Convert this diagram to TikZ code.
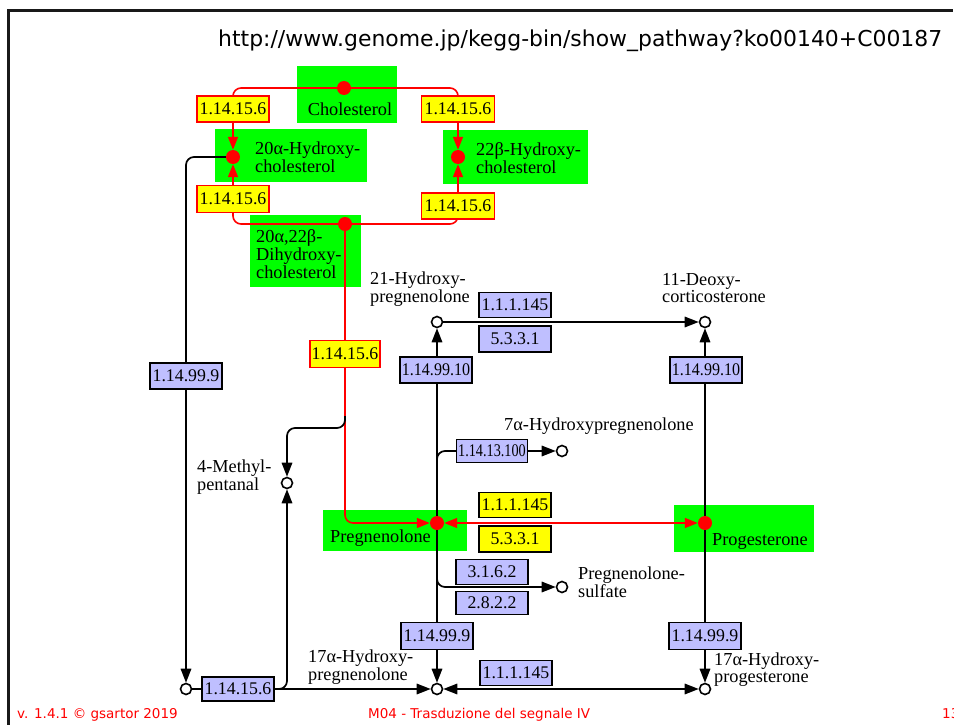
\documentclass[tikz,border=0pt]{standalone}
\usepackage{fontspec}
\usepackage{graphicx}
\setmainfont{Liberation Serif}
\newfontfamily\footfont{DejaVu Sans}
\usetikzlibrary{arrows.meta}
\definecolor{kgreen}{RGB}{0,255,0}
\definecolor{kblue}{RGB}{191,191,255}
\definecolor{kyellow}{RGB}{255,255,0}
\definecolor{kred}{RGB}{255,0,0}
\definecolor{kframe}{RGB}{25,25,25}
\pgfdeclarelayer{back}
\pgfdeclarelayer{mid}
\pgfsetlayers{back,mid,main}
\begin{document}
\begin{tikzpicture}[x=1pt,y=-1pt,
  lbl/.style={font=\fontsize{18.3}{16.5}\selectfont, inner sep=0pt, align=left, anchor=base west},
  gbox/.style={fill=kgreen, draw=none, inner sep=0pt, anchor=north west},
  ecbox/.style={draw=black, line width=1.1pt, fill=kblue, minimum width=72pt, minimum height=26pt, inner sep=0pt, font=\fontsize{17.8}{17.8}\selectfont},
  ecyel/.style={ecbox, fill=kyellow},
  ecred/.style={ecbox, fill=kyellow, draw=kred, line width=1.5pt},
  rdot/.style={circle, fill=kred, minimum size=14pt, inner sep=0pt},
  cpd/.style={circle, draw=black, fill=white, line width=1.6pt, minimum size=11pt, inner sep=0pt},
  rline/.style={draw=kred, line width=1.6pt},
  bline/.style={draw=black, line width=1.7pt},
  rarr/.style={rline, -{Triangle[length=13pt,width=10pt]}},
  barr/.style={bline, -{Triangle[length=14pt,width=10.5pt]}},
  foot/.style={font=\footfont\fontsize{13.5}{13.5}\selectfont, text=kred, anchor=base west, inner sep=0pt}
]
\useasboundingbox (0,0) rectangle (954,725);

% frame
\draw[line width=2.4pt, kframe] (8.5,726) -- (8.5,10.5) -- (953,10.5);

% URL and footer
\node[font=\footfont\fontsize{21}{21}\selectfont, anchor=base west, inner sep=0pt] (url) at (218,47)
  {\resizebox{724pt}{!}{http://www.genome.jp/kegg-bin/show\_pathway?ko00140+C00187}};
\node[foot] (ver) at (17,718) {v. 1.4.1 © gsartor 2019};
\node[foot] (ttl) at (368,718) {M04 - Trasduzione del segnale IV};
\node[foot] (pg) at (942,718) {13};

% green compound boxes
\begin{pgfonlayer}{back}
\node[gbox, minimum width=100pt, minimum height=57pt] (gchol) at (297,66) {};
\node[gbox, minimum width=152pt, minimum height=53pt] (g20a) at (215,129) {};
\node[gbox, minimum width=145pt, minimum height=54pt] (g22b) at (443,130) {};
\node[gbox, minimum width=111pt, minimum height=72pt] (gdih) at (250,215) {};
\node[gbox, minimum width=144pt, minimum height=41pt] (gpreg) at (323,510) {};
\node[gbox, minimum width=140pt, minimum height=47pt] (gprog) at (674,505) {};
\end{pgfonlayer}

% compound labels (anchor = baseline of the last line)
\node[lbl, anchor=base] (tchol) at (350,115) {Cholesterol};
\node[lbl] (t20a) at (255,172) {20α-Hydroxy-\\cholesterol};
\node[lbl] (t22b) at (476,173) {22β-Hydroxy-\\cholesterol};
\node[lbl] (tdih) at (256,278) {20α,22β-\\Dihydroxy-\\cholesterol};
\node[lbl] (t21h) at (370,302) {21-Hydroxy-\\pregnenolone};
\node[lbl] (t11d) at (662,302) {11-Deoxy-\\corticosterone};
\node[lbl] (t7a) at (504,430) {7α-Hydroxypregnenolone};
\node[lbl] (t4m) at (197,490) {4-Methyl-\\pentanal};
\node[lbl] (tpreg) at (330,542) {Pregnenolone};
\node[lbl] (tprog) at (712,545) {Progesterone};
\node[lbl] (tps) at (578,597) {Pregnenolone-\\sulfate};
\node[lbl] (t17p) at (308,680) {17α-Hydroxy-\\pregnenolone};
\node[lbl] (t17pr) at (714,682) {17α-Hydroxy-\\progesterone};

% compound points
\node[rdot] (chd) at (344,88) {};
\node[rdot] (a20) at (233,157) {};
\node[rdot] (b22) at (458,157) {};
\node[rdot] (dh) at (345,224) {};
\node[rdot] (preg) at (437,523) {};
\node[rdot] (prog) at (705,523) {};
\node[cpd] (h21) at (437,322) {};
\node[cpd] (doc) at (705,322) {};
\node[cpd] (c7) at (562,451) {};
\node[cpd] (mp) at (287,483) {};
\node[cpd] (cs) at (562,587) {};
\node[cpd] (c1) at (186,689) {};
\node[cpd] (hp17) at (437,689) {};
\node[cpd] (hpr17) at (705,689) {};

% enzyme boxes
\node[ecred] (y1) at (233,109) {1.14.15.6};
\node[ecred, minimum width=73pt] (y2) at (458,109) {1.14.15.6};
\node[ecred, minimum height=27pt] (y3) at (233,199) {1.14.15.6};
\node[ecred, minimum width=73pt] (y4) at (458,206) {1.14.15.6};
\node[ecred, minimum width=70pt, minimum height=27pt] (y5) at (345,354) {1.14.15.6};
\node[ecbox] (el) at (186,376) {1.14.99.9};
\node[ecbox] (e21) at (436,370) {\scalebox{0.9}[1]{1.14.99.10}};
\node[ecbox] (ed) at (706,370) {\scalebox{0.9}[1]{1.14.99.10}};
\node[ecbox, minimum height=25pt] (h1) at (515,305) {1.1.1.145};
\node[ecbox] (h2) at (515,339) {5.3.3.1};
\node[ecbox, minimum width=71pt, minimum height=23pt] (e7) at (492,451) {\scalebox{0.8}[1]{1.14.13.100}};
\node[ecyel, minimum height=25pt] (yy1) at (515,505) {1.1.1.145};
\node[ecyel] (yy2) at (515,539) {5.3.3.1};
\node[ecbox, minimum height=25pt] (s1) at (492,572) {3.1.6.2};
\node[ecbox, minimum height=23pt] (s2) at (492,603) {2.8.2.2};
\node[ecbox, minimum height=27pt] (ep17) at (437,636) {1.14.99.9};
\node[ecbox, minimum height=27pt] (epr17) at (705,636) {1.14.99.9};
\node[ecbox, minimum height=25pt] (b1) at (516,673) {1.1.1.145};
\node[ecbox, minimum height=24pt] (e5) at (238,689) {1.14.15.6};

\coordinate (br) at (345,416);
\coordinate (b7) at (437,465);
\coordinate (bs) at (437,574);

% connectors
\begin{pgfonlayer}{mid}
\draw[rarr, rounded corners=8pt] (chd) -| (a20);
\draw[rarr, rounded corners=8pt] (chd) -| (b22);
\draw[rarr, rounded corners=8pt] (dh) -| (a20);
\draw[rarr, rounded corners=8pt] (dh) -| (b22);
\draw[rarr, rounded corners=8pt] (dh) |- (preg);
\draw[rline, {Triangle[length=13pt,width=10pt]}-{Triangle[length=13pt,width=10pt]}] (preg) -- (prog);

\draw[barr, rounded corners=8pt] (a20) -| (c1);
\draw[bline] (c1) -- (e5);
\draw[barr] (e5) -- (hp17);
\draw[barr, rounded corners=8pt] (e5.east) -| (mp);
\draw[barr, rounded corners=8pt] (br) -- ++(0,12) -| (mp);

\draw[barr] (preg) -- (h21);
\draw[barr] (preg) -- (hp17);
\draw[barr] (prog) -- (doc);
\draw[barr] (prog) -- (hpr17);
\draw[barr] (h21) -- (doc);
\draw[bline, {Triangle[length=14pt,width=10.5pt]}-{Triangle[length=14pt,width=10.5pt]}] (hp17) -- (hpr17);

\draw[bline, rounded corners=8pt] (b7) |- (e7);
\draw[barr] (e7) -- (c7);
\draw[barr, rounded corners=8pt] (bs) |- (cs);
\end{pgfonlayer}
\end{tikzpicture}
\end{document}
